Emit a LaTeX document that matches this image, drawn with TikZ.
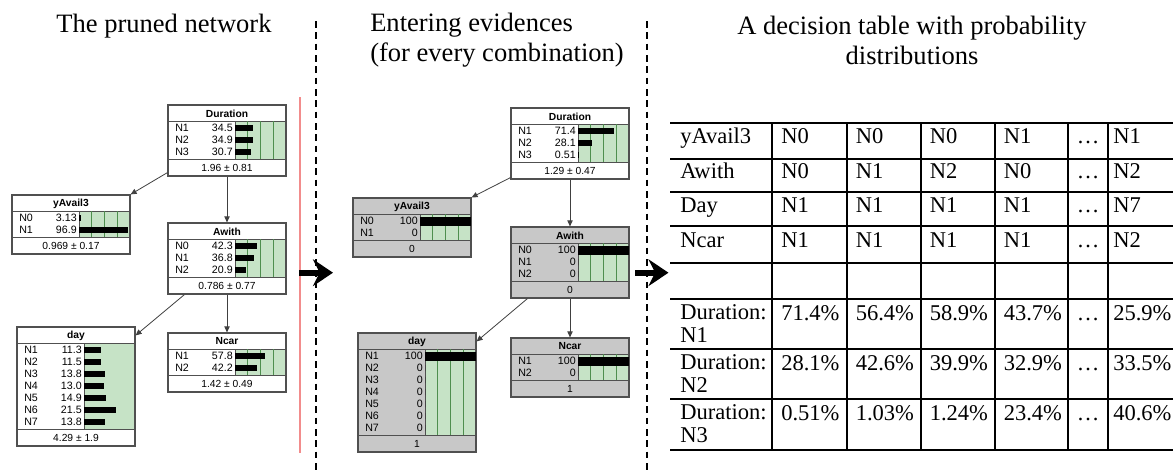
\documentclass[tikz,border=0pt]{standalone}
\usepackage{fontspec}
\setmainfont{Liberation Serif}
\newfontfamily\bnfont{Liberation Sans}
\usetikzlibrary{calc,arrows.meta,fit}
\definecolor{bnborder}{HTML}{505050}
\definecolor{bngreen}{HTML}{C6E3C6}
\definecolor{bngline}{HTML}{4E8F4E}
\definecolor{evgray}{HTML}{C8C8C8}
\definecolor{redline}{HTML}{F28C8C}
\definecolor{edgegray}{HTML}{404040}
\tikzset{
 bnframe/.style={draw=bnborder, line width=0.9pt, inner sep=0pt},
 bnsep/.style={draw=bnborder, line width=0.7pt},
 bntitle/.style={font=\bnfont\bfseries\fontsize{7.7}{8}\selectfont, inner sep=0pt},
 bnmean/.style={font=\bnfont\fontsize{7.7}{8}\selectfont, inner sep=0pt},
 bnlabel/.style={font=\bnfont\fontsize{8}{8}\selectfont, inner sep=0pt, anchor=west},
 bnvalue/.style={font=\bnfont\fontsize{8}{8}\selectfont, inner sep=0pt, anchor=east},
 bngridline/.style={draw=bngline, line width=0.5pt},
 bnedge/.style={draw=edgegray, line width=0.6pt, -{Triangle[length=4.5pt,width=4pt]}},
 bigarrow/.style={line width=4.5pt, -{Stealth[length=15pt,width=20pt,inset=5pt]}},
 sepline/.style={line width=1.5pt, dash pattern=on 5pt off 3.5pt},
 titletext/.style={font=\fontsize{19.9}{22.5}\selectfont, inner sep=0pt},
 tcell/.style={font=\fontsize{16.9}{17.25}\selectfont, inner sep=0pt, anchor=base west},
 tline/.style={line width=1.5pt},
}
% #1 name #2 x0 #3 y0 #4 number of states #5 fill #6 title #7 mean
\newcommand{\bnnode}[7]{%
  \pgfmathsetmacro{\bnx}{#2}%
  \pgfmathsetmacro{\bnyA}{#3+16}%
  \pgfmathsetmacro{\bnyB}{#3+18+12*#4}%
  \pgfmathsetmacro{\bnyC}{#3+35+12*#4}%
  \pgfmathsetmacro{\bnxA}{#2+67}%
  \pgfmathsetmacro{\bnxB}{#2+118}%
  \fill[#5] (#2,#3) rectangle (\bnxB,\bnyC);
  \fill[bngreen] (\bnxA,\bnyA) rectangle (\bnxB,\bnyB);
  \draw[bnsep] (#2,\bnyA) -- (\bnxB,\bnyA) (#2,\bnyB) -- (\bnxB,\bnyB) (\bnxA,\bnyA) -- (\bnxA,\bnyB);
  \node[bntitle] (#1t) at ({#2+59},{#3+8.5}) {#6};
  \node[bnmean] (#1m) at ({#2+59},{\bnyB+8.5}) {#7};
  \node[bnframe, fit={(#2,#3) (\bnxB,\bnyC)}] (#1) {};
}
\newcommand{\bngrid}{%
  \foreach \q in {1,2,3} \draw[bngridline] ({\bnxA+12.75*\q},\bnyA) -- ({\bnxA+12.75*\q},\bnyB);
}
% #1 name #2 index #3 label #4 value #5 bar length #6 half height
\newcommand{\bnstate}[6]{%
  \pgfmathsetmacro{\bnyr}{\bnyA+1+12*#2-6}%
  \node[bnlabel] (#1l) at ({\bnx+7},\bnyr) {#3};
  \node[bnvalue] (#1v) at ({\bnx+65},\bnyr) {#4};
  \fill (\bnxA,{\bnyr-#6}) rectangle ({\bnxA+#5},{\bnyr+#6});
}
\begin{document}
\begin{tikzpicture}[x=0.75pt,y=-0.75pt]
\useasboundingbox (0,0) rectangle (1173,472);
\fill[white] (0,0) rectangle (1173,472);

% titles
\node[titletext] (title1) at (164,26) {The pruned network};
\node[titletext, align=left, anchor=west] (title2) at (370,40) {Entering evidences\\(for every combination)};
\node[titletext, align=center] (title3) at (912,40) {A decision table with probability\\distributions};

% separators
\coordinate (sepAtop) at (316,21);
\coordinate (sepAbot) at (316,472);
\coordinate (sepBtop) at (647,21);
\coordinate (sepBbot) at (647,472);
\draw[sepline] (sepAtop) -- (sepAbot);
\draw[sepline] (sepBtop) -- (sepBbot);
\coordinate (redtop) at (300,97);
\coordinate (redbot) at (300,453);
\draw[redline, line width=0.8pt] (redtop) -- (redbot);

% ---------- left network ----------
\bnnode{ldur}{168}{105}{3}{white}{Duration}{1.96 ± 0.81}
\bngrid
\bnstate{ldurA}{1}{N1}{34.5}{17.6}{3}
\bnstate{ldurB}{2}{N2}{34.9}{17.8}{3}
\bnstate{ldurC}{3}{N3}{30.7}{15.7}{3}

\bnnode{lyav}{12}{195}{2}{white}{yAvail3}{0.969 ± 0.17}
\bngrid
\bnstate{lyavA}{1}{N0}{3.13}{1.6}{3}
\bnstate{lyavB}{2}{N1}{96.9}{49.4}{3}

\bnnode{law}{168}{223}{3}{white}{Awith}{0.786 ± 0.77}
\bngrid
\bnstate{lawA}{1}{N0}{42.3}{21.6}{3}
\bnstate{lawB}{2}{N1}{36.8}{18.8}{3}
\bnstate{lawC}{3}{N2}{20.9}{10.7}{3}

\bnnode{lday}{17}{327}{7}{white}{day}{4.29 ± 1.9}
\bnstate{ldayA}{1}{N1}{11.3}{16.9}{3}
\bnstate{ldayB}{2}{N2}{11.5}{17.3}{3}
\bnstate{ldayC}{3}{N3}{13.8}{20.7}{3}
\bnstate{ldayD}{4}{N4}{13.0}{19.5}{3}
\bnstate{ldayE}{5}{N5}{14.9}{22.4}{3}
\bnstate{ldayF}{6}{N6}{21.5}{32.3}{3}
\bnstate{ldayG}{7}{N7}{13.8}{20.7}{3}

\bnnode{lncar}{168}{333}{2}{white}{Ncar}{1.42 ± 0.49}
\bngrid
\bnstate{lncarA}{1}{N1}{57.8}{29.5}{3}
\bnstate{lncarB}{2}{N2}{42.2}{21.5}{3}

\draw[bnedge] ($(ldur.south west)+(0,-4)$) -- (lyav.north east);
\draw[bnedge] (ldur.south) -- (law.north);
\draw[bnedge] ($(law.south west)+(17,0)$) -- ($(lday.north east)+(0,9)$);
\draw[bnedge] (law.south) -- (lncar.north);

% ---------- middle network ----------
\bnnode{mdur}{511}{108}{3}{white}{Duration}{1.29 ± 0.47}
\bngrid
\bnstate{mdurA}{1}{N1}{71.4}{36.4}{3}
\bnstate{mdurB}{2}{N2}{28.1}{14.3}{3}
\bnstate{mdurC}{3}{N3}{0.51}{0.3}{3}

\bnnode{myav}{353}{198}{2}{evgray}{yAvail3}{0}
\bngrid
\bnstate{myavA}{1}{N0}{100}{51}{4.5}
\bnstate{myavB}{2}{N1}{0}{0}{3}

\bnnode{maw}{511}{227}{3}{evgray}{Awith}{0}
\bngrid
\bnstate{mawA}{1}{N0}{100}{51}{4.5}
\bnstate{mawB}{2}{N1}{0}{0}{3}
\bnstate{mawC}{3}{N2}{0}{0}{3}

\bnnode{mday}{358}{333}{7}{evgray}{day}{1}
\bngrid
\bnstate{mdayA}{1}{N1}{100}{51}{4.5}
\bnstate{mdayB}{2}{N2}{0}{0}{3}
\bnstate{mdayC}{3}{N3}{0}{0}{3}
\bnstate{mdayD}{4}{N4}{0}{0}{3}
\bnstate{mdayE}{5}{N5}{0}{0}{3}
\bnstate{mdayF}{6}{N6}{0}{0}{3}
\bnstate{mdayG}{7}{N7}{0}{0}{3}

\bnnode{mncar}{511}{338}{2}{evgray}{Ncar}{1}
\bngrid
\bnstate{mncarA}{1}{N1}{100}{51}{4.5}
\bnstate{mncarB}{2}{N2}{0}{0}{3}

\draw[bnedge] ($(mdur.south west)+(0,-2)$) -- (myav.north east);
\draw[bnedge] (mdur.south) -- (maw.north);
\draw[bnedge] ($(maw.south west)+(17,0)$) -- ($(mday.north east)+(0,9)$);
\draw[bnedge] (maw.south) -- (mncar.north);

% big arrows
\coordinate (arrAs) at (299,272.7);
\coordinate (arrAe) at (333,272.7);
\coordinate (arrBs) at (635,272.7);
\coordinate (arrBe) at (668.5,272.7);
\draw[bigarrow] (arrAs) -- (arrAe);
\draw[bigarrow] (arrBs) -- (arrBe);

% ---------- table ----------
\foreach \yy in {123,159,192,226,262.5,298.5,348.5,398.5,449.5}
  \draw[tline] (670,\yy) -- (1173,\yy);
\foreach \xx in {771.7,846.5,920.5,994.5,1067.7,1108.3}
  \draw[tline] (\xx,123) -- (\xx,449.5);

\foreach \r/\yb/\ca/\cb/\cc/\cd/\ce/\cg in {
  1/143.5/yAvail3/N0/N0/N0/N1/N1,
  2/178.5/Awith/N0/N1/N2/N0/N2,
  3/212/Day/N1/N1/N1/N1/N7,
  4/247/Ncar/N1/N1/N1/N1/N2}{
  \node[tcell] (t\r-a) at (680,\yb) {\ca};
  \node[tcell] (t\r-b) at (781,\yb) {\cb};
  \node[tcell] (t\r-c) at (855.5,\yb) {\cc};
  \node[tcell] (t\r-d) at (929.5,\yb) {\cd};
  \node[tcell] (t\r-e) at (1003.5,\yb) {\ce};
  \node[tcell, anchor=base] (t\r-f) at (1088,\yb) {…};
  \node[tcell] (t\r-g) at (1113,\yb) {\cg};
}
\foreach \r/\yb/\k/\cb/\cc/\cd/\ce/\cg in {
  6/320/1/71.4/56.4/58.9/43.7/25.9,
  7/370/2/28.1/42.6/39.9/32.9/33.5,
  8/420/3/0.51/1.03/1.24/23.4/40.6}{
  \node[tcell, align=left, anchor=north west] (t\r-a) at (680,{\yb-15.4}) {Duration:\\N\k};
  \node[tcell] (t\r-b) at (781,\yb) {\cb\%};
  \node[tcell] (t\r-c) at (855.5,\yb) {\cc\%};
  \node[tcell] (t\r-d) at (929.5,\yb) {\cd\%};
  \node[tcell] (t\r-e) at (1003.5,\yb) {\ce\%};
  \node[tcell, anchor=base] (t\r-f) at (1088,\yb) {…};
  \node[tcell] (t\r-g) at (1113,\yb) {\cg\%};
}
\end{tikzpicture}
\end{document}
